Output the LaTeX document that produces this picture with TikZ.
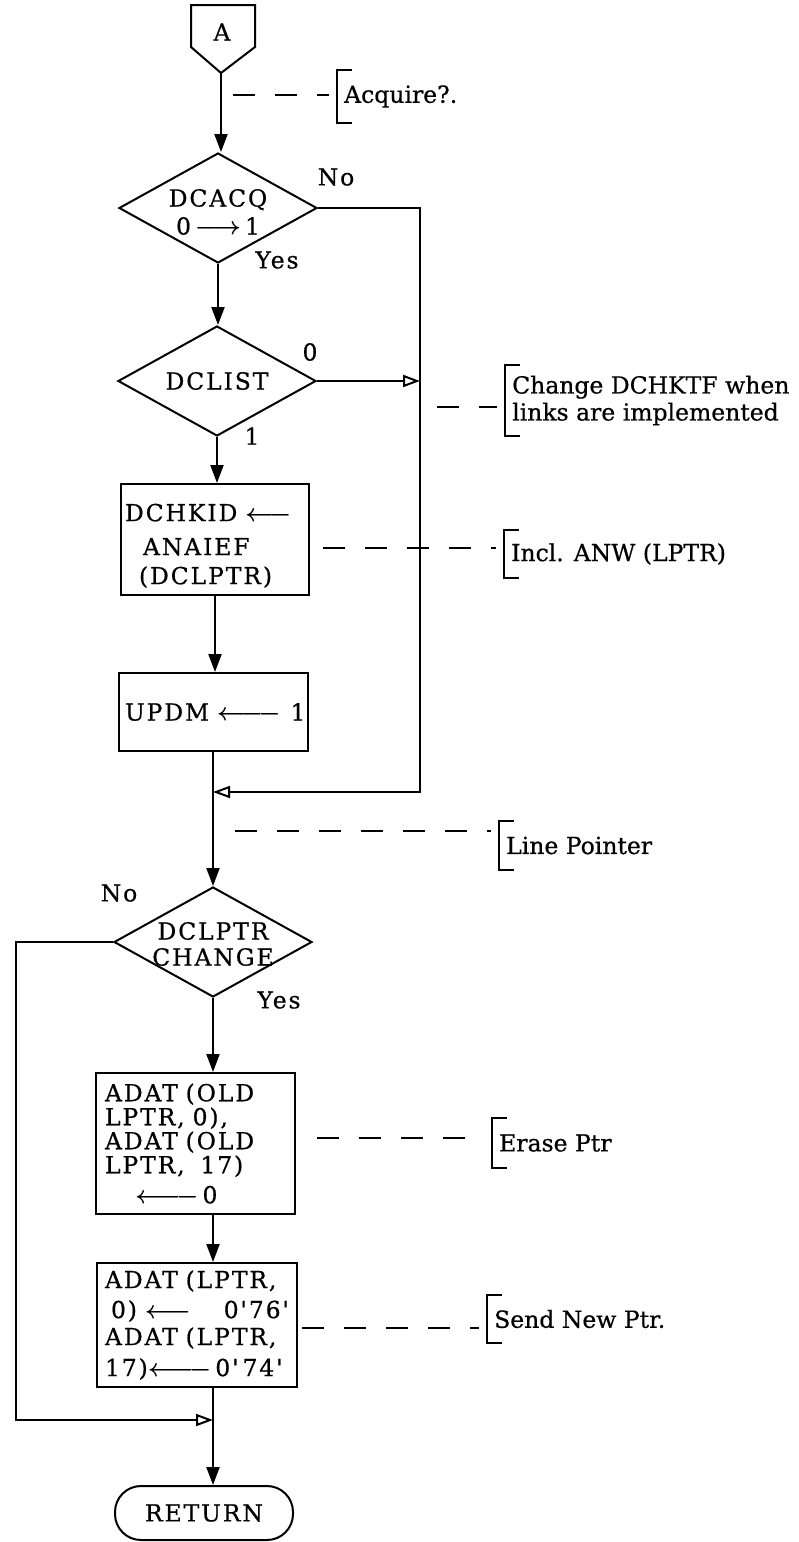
\documentclass[tikz,border=0pt]{standalone}
\usepackage{amsmath}
\usepackage{fontspec}
\setmainfont[FakeBold=0.6]{DejaVu Serif}
\newfontfamily\boxfont[LetterSpace=8,FakeBold=0.6]{DejaVu Serif}
\usetikzlibrary{shapes.geometric,arrows.meta}

\newcommand{\larr}{$\boldsymbol{\longleftarrow}$}
\newcommand{\llarr}{$\boldsymbol{\leftarrow\joinrel\relbar\joinrel\relbar}$}
\newcommand{\rarr}{$\boldsymbol{\longrightarrow}$}

\tikzset{
  flow/.style={line width=2.2pt, -{Triangle[length=18pt,width=13pt]}},
  merge/.style={line width=2pt, -{Triangle[open,length=17pt,width=12pt]}},
  leader/.style={line width=1.6pt, dash pattern=on 22pt off 20pt, shorten >=8pt},
  bracket/.style={line width=1.6pt},
  decision/.style={diamond, draw, line width=2pt, minimum width=198pt, minimum height=110pt, inner sep=0pt},
  dtext/.style={font=\boxfont\fontsize{23.5}{25}\selectfont, align=center, inner sep=0pt},
  process/.style={rectangle, draw, line width=2pt, inner ysep=0pt, font=\boxfont\fontsize{23.5}{24}\selectfont},
  answer/.style={font=\boxfont\fontsize{23.5}{25}\selectfont, inner sep=0pt},
  note/.style={anchor=west, inner xsep=7pt, inner ysep=0pt, align=left, font=\fontsize{23.5}{27}\selectfont}
}

\begin{document}
\begin{tikzpicture}[x=1pt, y=-1pt]
\useasboundingbox (0,0) rectangle (798,1542);

% entry connector A
\draw[line width=2pt] (191,5) -- (255,5) -- (255,47) -- (221,73) -- (191,47) -- cycle;
\node[answer] (conn) at (222,32) {A};
\coordinate (conntip) at (221,73);

% decisions
\node[decision, label={[dtext, yshift=-4pt]center:{DCACQ\\[3pt]0\,\rarr\,1}}] (dcacq) at (218,208) {};
\node[decision, label={[dtext]center:DCLIST}] (dclist) at (217,381) {};
\node[decision, label={[dtext, yshift=-2pt]center:{DCLPTR\\[1pt]CHANGE}}] (dclptr) at (213,942) {};

% boxes
\node[process, text width=180pt, inner xsep=4pt, minimum height=111pt, align=left] (dchkid) at (215,539.5)
  {\rule{0pt}{30pt}DCHKID~\larr\\[10pt]\hspace*{18pt}ANAIEF\\[5pt]\hspace*{14pt}(DCLPTR)};
\node[process, text width=185pt, inner xsep=2pt, minimum height=78pt, align=right] (updm) at (213,712)
  {UPDM~\llarr\hspace{10pt}1};
\node[process, text width=181pt, inner xsep=9pt, minimum height=141pt, align=left] (erase) at (195.5,1143.5)
  {ADAT~(OLD\\LPTR,~0),\\ADAT~(OLD\\LPTR,\ \ 17)\\[6pt]\hspace*{30pt}\llarr\,0};
\node[process, text width=184pt, inner xsep=8pt, minimum height=124pt, align=left,
  font=\boxfont\fontsize{23.5}{27}\selectfont] (send) at (197,1325)
  {ADAT~(LPTR,\\[3pt]\hspace*{6pt}0)~\larr\hfill 0'76'\\ADAT~(LPTR,\\[4pt]17)\llarr\,0'\,74'};
\node[draw, line width=2pt, rounded corners=26pt, minimum width=178pt, minimum height=54pt,
  font=\boxfont\fontsize{23.5}{25}\selectfont] (ret) at (204,1513) {RETURN};

% branch labels
\node[answer] (noacq) at (336,177) {No};
\node[answer] (yesacq) at (277,260) {Yes};
\node[answer] (zerolist) at (310,352) {0};
\node[answer] (onelist) at (252,436) {1};
\node[answer] (noptr) at (119,893) {No};
\node[answer] (yesptr) at (279,1000) {Yes};

% main line
\draw[flow] (conntip) -- (conntip |- dcacq.north);
\draw[flow] (dcacq.south) -- (dcacq.south |- dclist.north);
\draw[flow] (dclist.south) -- (dclist.south |- dchkid.north);
\draw[flow] (dchkid.south) -- (dchkid.south |- updm.north);
\draw[flow] (updm.south) -- (updm.south |- dclptr.north);
\draw[flow] (dclptr.south) -- (dclptr.south |- erase.north);
\draw[flow] (dclptr.south |- erase.south) -- (dclptr.south |- send.north);
\draw[flow] (dclptr.south |- send.south) -- (dclptr.south |- ret.north);

% side returns
\coordinate (rbus) at (420,792);
\draw[merge] (dcacq.east) -| (rbus) -- (updm.south |- rbus);
\draw[merge] (dclist.east) -- (dclist.east -| rbus);
\coordinate (lbus) at (16,1420);
\draw[merge] (dclptr.west) -| (lbus) -- (dclptr.south |- lbus);

% notes
\node[note, minimum height=53pt] (acq) at (337,96.5) {Acquire?.};
\node[note, minimum height=71pt] (chg) at (505,400.5) {Change DCHKTF when\\links are implemented};
\node[note, minimum height=48pt] (incl) at (504,554) {Incl. ANW (LPTR)};
\node[note, minimum height=49pt] (lp) at (499,845.5) {Line Pointer};
\node[note, minimum height=50pt] (ers) at (492,1143) {Erase Ptr};
\node[note, minimum height=48pt] (snd) at (487,1319) {Send New Ptr.};

\draw[bracket] ([xshift=15pt]acq.north west) -- (acq.north west) -- (acq.south west) -- ([xshift=15pt]acq.south west);
\draw[bracket] ([xshift=15pt]chg.north west) -- (chg.north west) -- (chg.south west) -- ([xshift=15pt]chg.south west);
\draw[bracket] ([xshift=15pt]incl.north west) -- (incl.north west) -- (incl.south west) -- ([xshift=15pt]incl.south west);
\draw[bracket] ([xshift=15pt]lp.north west) -- (lp.north west) -- (lp.south west) -- ([xshift=15pt]lp.south west);
\draw[bracket] ([xshift=15pt]ers.north west) -- (ers.north west) -- (ers.south west) -- ([xshift=15pt]ers.south west);
\draw[bracket] ([xshift=15pt]snd.north west) -- (snd.north west) -- (snd.south west) -- ([xshift=15pt]snd.south west);

% dashed leaders
\coordinate (acqfrom) at (233,95);
\coordinate (chgfrom) at (437,407);
\coordinate (inclfrom) at (323,548);
\coordinate (lpfrom) at (235,831);
\coordinate (ersfrom) at (317,1138);
\coordinate (sndfrom) at (302,1328);
\draw[leader] (acqfrom) -- (acqfrom -| acq.west);
\draw[leader] (chgfrom) -- (chgfrom -| chg.west);
\draw[leader] (inclfrom) -- (inclfrom -| incl.west);
\draw[leader] (lpfrom) -- (lpfrom -| lp.west);
\draw[leader] (ersfrom) -- (ersfrom -| ers.west);
\draw[leader] (sndfrom) -- (sndfrom -| snd.west);
\end{tikzpicture}
\end{document}
